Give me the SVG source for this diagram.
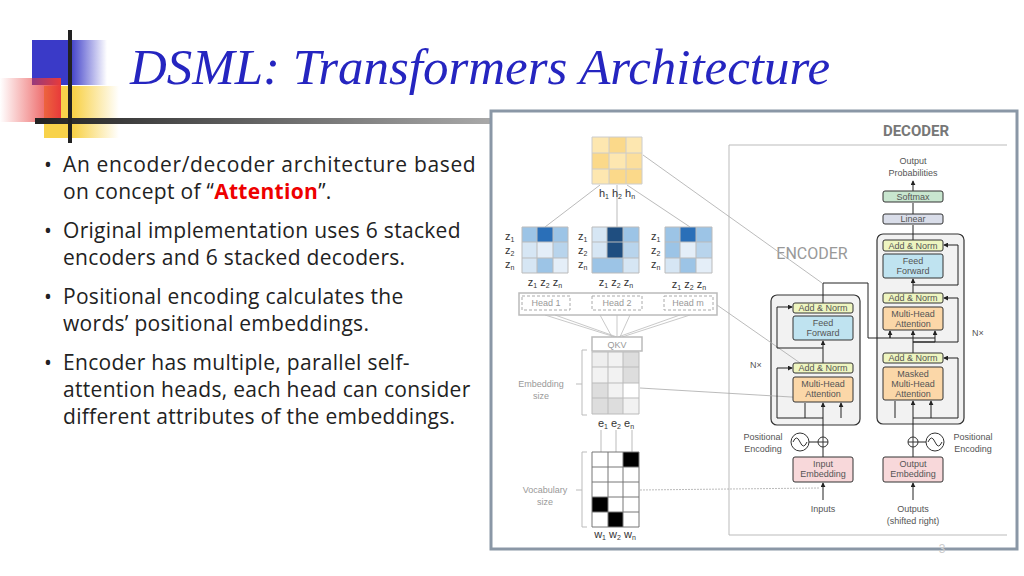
<svg xmlns="http://www.w3.org/2000/svg" width="1024" height="576" viewBox="0 0 1024 576">
<defs>
<linearGradient id="gb" x1="0" x2="1"><stop offset="0.5" stop-color="#3a3ac8"/><stop offset="1" stop-color="#3a3ac8" stop-opacity="0"/></linearGradient>
<linearGradient id="gy" x1="0" x2="1"><stop offset="0.4" stop-color="#f8d24a"/><stop offset="1" stop-color="#f8d24a" stop-opacity="0"/></linearGradient>
<linearGradient id="gr" x1="1" x2="0"><stop offset="0" stop-color="#e83a3a"/><stop offset="1" stop-color="#e83a3a" stop-opacity="0"/></linearGradient>
<linearGradient id="gl" x1="0" x2="1"><stop offset="0" stop-color="#222"/><stop offset="1" stop-color="#aaa"/></linearGradient>
<marker id="ar" viewBox="0 0 6 6" refX="5" refY="3" markerWidth="5" markerHeight="5" orient="auto"><path d="M0 0L6 3L0 6z" fill="#222"/></marker>
</defs>
<style>
.b{font-family:"Open Sans","Liberation Sans",sans-serif;font-size:21px;letter-spacing:0.3px;fill:#222}
.s{font-family:"Liberation Sans",Arial,sans-serif;font-size:9px;fill:#555;text-anchor:middle}
.m{font-family:"Liberation Sans",Arial,sans-serif;font-size:11px;fill:#333;text-anchor:middle}
.g{font-family:"Liberation Sans",Arial,sans-serif;font-size:9px;fill:#999;text-anchor:middle}
.bx{stroke:#333;stroke-width:1}
.ln{stroke:#222;stroke-width:1;fill:none}
.gr{stroke:#bbb;stroke-width:1;fill:none}
</style>
<rect width="1024" height="576" fill="#fff"/>
<g id="logo">
<rect x="32" y="40" width="75" height="45" fill="url(#gb)"/>
<rect x="44" y="86" width="75" height="52" fill="url(#gy)"/>
<rect x="0" y="78" width="61" height="44" fill="url(#gr)"/>
<rect x="35" y="118" width="460" height="6" fill="url(#gl)"/>
<rect x="68" y="30" width="4" height="113" fill="#222"/>
</g>
<text x="130" y="84" font-family="'Liberation Serif',serif" font-style="italic" font-size="50" fill="#2525c0" textLength="700" lengthAdjust="spacingAndGlyphs">DSML: Transformers Architecture</text>
<g id="bullets" class="b">
<text x="44" y="172">•</text><text x="63" y="172" textLength="413">An encoder/decoder architecture based</text>
<text x="63" y="199">on concept of “<tspan fill="#e00" font-weight="bold">Attention</tspan>”.</text>
<text x="44" y="238">•</text><text x="63" y="238">Original implementation uses 6 stacked</text>
<text x="63" y="265">encoders and 6 stacked decoders.</text>
<text x="44" y="304">•</text><text x="63" y="304">Positional encoding calculates the</text>
<text x="63" y="331">words’ positional embeddings.</text>
<text x="44" y="370">•</text><text x="63" y="370">Encoder has multiple, parallel self-</text>
<text x="63" y="397">attention heads, each head can consider</text>
<text x="63" y="424">different attributes of the embeddings.</text>
</g>
<g id="figure">
<rect x="491" y="111" width="526" height="438" fill="#fff" stroke="#8a97a6" stroke-width="3"/>
<path d="M729 535V145H1007M729 535H1007" class="gr"/>
<text x="916" y="136" font-family="Roboto,'Liberation Sans',sans-serif" font-size="15" fill="#777" text-anchor="middle" font-weight="bold">DECODER</text>
<text x="812" y="259" font-family="Roboto,'Liberation Sans',sans-serif" font-size="16" fill="#999" text-anchor="middle">ENCODER</text>
</g>
<g id="stacks">
<rect x="771" y="295" width="89" height="130" rx="6" fill="#f2f2f2" stroke="#333" stroke-width="1.2"/>
<rect x="877" y="234" width="87" height="190" rx="6" fill="#f2f2f2" stroke="#333" stroke-width="1.2"/>
</g>
<g id="connectors">
<path d="M643 155L822 283M717 305L803 365M640 388L808 398" stroke="#aaa" stroke-width="0.8"/>
<path d="M640 490L820 488" stroke="#aaa" stroke-width="0.8" stroke-dasharray="2 1"/>
<path d="M600 185L545 227M617 185V227M627 185L690 227" class="gr"/>
<path d="M545 315L615 337M555 315L617 337M600 315L612 337M617 315V337M630 315L620 337M690 315L622 337M680 315L618 337" stroke="#bbb" stroke-width="0.8"/>
<path d="M601 430V452M616 430V452M632 430V452" class="gr"/>
<path d="M587 350h-5v65h5M582 384h-6M587 452h-5v75h5M582 490h-6" class="gr"/>
<path d="M823 500V483" class="ln" marker-end="url(#ar)"/>
<path d="M823 457V447" class="ln"/>
<path d="M823 437V403" class="ln" marker-end="url(#ar)"/>
<path d="M823 418H777V368H792" class="ln" marker-end="url(#ar)"/>
<path d="M805 418V403M841 418V403" class="ln" marker-end="url(#ar)"/>
<path d="M823 363V341" class="ln" marker-end="url(#ar)"/>
<path d="M823 348H777V307H792" class="ln" marker-end="url(#ar)"/>
<path d="M823 303V283H868V338H935M890 338V331" class="ln"/>
<path d="M890 338V331" class="ln" marker-end="url(#ar)"/>
<path d="M800 442H818" class="ln"/>
<path d="M913 500V483" class="ln" marker-end="url(#ar)"/>
<path d="M913 457V447M913 437V401" class="ln" marker-end="url(#ar)"/>
<path d="M913 418H958V358H944" class="ln" marker-end="url(#ar)"/>
<path d="M895 418V401M931 418V401" class="ln" marker-end="url(#ar)"/>
<path d="M913 353V342H935V331" class="ln" marker-end="url(#ar)"/>
<path d="M913 342V331" class="ln" marker-end="url(#ar)"/>
<path d="M913 342H958V298H944" class="ln" marker-end="url(#ar)"/>
<path d="M913 293V279" class="ln" marker-end="url(#ar)"/>
<path d="M913 285H958V245H944" class="ln" marker-end="url(#ar)"/>
<path d="M913 240V225M913 214V203M913 191V181" class="ln" marker-end="url(#ar)"/>
<path d="M918 442H926" class="ln"/>
</g>
<g id="top-matrix">
<rect x="592" y="137" width="17" height="16" fill="#fde7b0"/><rect x="609" y="137" width="17" height="16" fill="#fbd98a"/><rect x="626" y="137" width="16" height="16" fill="#fde7b0"/>
<rect x="592" y="153" width="17" height="16" fill="#fbd98a"/><rect x="609" y="153" width="17" height="16" fill="#fde7b0"/><rect x="626" y="153" width="16" height="16" fill="#fcdf9c"/>
<rect x="592" y="169" width="17" height="15" fill="#fde7b0"/><rect x="609" y="169" width="17" height="15" fill="#fbd98a"/><rect x="626" y="169" width="16" height="15" fill="#fbd98a"/>
<path d="M592 137h50v47h-50zM609 137v47M626 137v47M592 153h50M592 169h50" fill="none" stroke="#ccc"/>
<text x="617" y="197" class="m">h<tspan font-size="7" dy="2">1</tspan><tspan dy="-2"> h</tspan><tspan font-size="7" dy="2">2</tspan><tspan dy="-2"> h</tspan><tspan font-size="7" dy="2">n</tspan></text>
</g>
<g id="heads">
<g transform="translate(522 227)"><rect width="15" height="15" fill="#9cc4e6"/><rect x="15" width="16" height="15" fill="#2a6fb8"/><rect x="31" width="15" height="15" fill="#9cc4e6"/><rect y="15" width="15" height="16" fill="#d6e6f4"/><rect x="15" y="15" width="16" height="16" fill="#e4eef8"/><rect x="31" y="15" width="15" height="16" fill="#b8d4ec"/><rect y="31" width="15" height="15" fill="#d6e6f4"/><rect x="15" y="31" width="16" height="15" fill="#9cc4e6"/><rect x="31" y="31" width="15" height="15" fill="#e4eef8"/><path d="M0 0h46v46H0zM15 0v46M31 0v46M0 15h46M0 31h46" fill="none" stroke="#bbb"/></g>
<g transform="translate(592 227)"><rect width="15" height="15" fill="#d6e6f4"/><rect x="15" width="16" height="15" fill="#1f4e80"/><rect x="31" width="16" height="15" fill="#9cc4e6"/><rect y="15" width="15" height="16" fill="#d6e6f4"/><rect x="15" y="15" width="16" height="16" fill="#1f4e80"/><rect x="31" y="15" width="16" height="16" fill="#b8d4ec"/><rect y="31" width="31" height="15" fill="#9cc4e6"/><rect x="31" y="31" width="16" height="15" fill="#d6e6f4"/><path d="M0 0h47v46H0zM15 0v31M31 0v46M0 15h47M0 31h47" fill="none" stroke="#bbb"/></g>
<g transform="translate(665 227)"><rect width="15" height="15" fill="#9cc4e6"/><rect x="15" width="16" height="15" fill="#2a6fb8"/><rect x="31" width="16" height="15" fill="#9cc4e6"/><rect y="15" width="15" height="16" fill="#9cc4e6"/><rect x="15" y="15" width="16" height="16" fill="#e4eef8"/><rect x="31" y="15" width="16" height="16" fill="#b8d4ec"/><rect y="31" width="15" height="15" fill="#d6e6f4"/><rect x="15" y="31" width="16" height="15" fill="#9cc4e6"/><rect x="31" y="31" width="16" height="15" fill="#e4eef8"/><path d="M0 0h47v46H0zM15 0v46M31 0v46M0 15h47M0 31h47" fill="none" stroke="#bbb"/></g>
<g class="m" style="text-anchor:start">
<text x="505" y="240">z<tspan font-size="7" dy="2">1</tspan></text><text x="505" y="254">z<tspan font-size="7" dy="2">2</tspan></text><text x="505" y="268">z<tspan font-size="7" dy="2">n</tspan></text>
<text x="578" y="240">z<tspan font-size="7" dy="2">1</tspan></text><text x="578" y="254">z<tspan font-size="7" dy="2">2</tspan></text><text x="578" y="268">z<tspan font-size="7" dy="2">n</tspan></text>
<text x="651" y="240">z<tspan font-size="7" dy="2">1</tspan></text><text x="651" y="254">z<tspan font-size="7" dy="2">2</tspan></text><text x="651" y="268">z<tspan font-size="7" dy="2">n</tspan></text>
</g>
<text x="545" y="286" class="m">z<tspan font-size="7" dy="2">1</tspan><tspan dy="-2"> z</tspan><tspan font-size="7" dy="2">2</tspan><tspan dy="-2"> z</tspan><tspan font-size="7" dy="2">n</tspan></text>
<text x="616" y="286" class="m">z<tspan font-size="7" dy="2">1</tspan><tspan dy="-2"> z</tspan><tspan font-size="7" dy="2">2</tspan><tspan dy="-2"> z</tspan><tspan font-size="7" dy="2">n</tspan></text>
<text x="689" y="288" class="m">z<tspan font-size="7" dy="2">1</tspan><tspan dy="-2"> z</tspan><tspan font-size="7" dy="2">2</tspan><tspan dy="-2"> z</tspan><tspan font-size="7" dy="2">n</tspan></text>
<rect x="519" y="293" width="198" height="22" fill="#fff" stroke="#bbb" stroke-width="1.5"/>
<g fill="none" stroke="#aaa" stroke-dasharray="3 2"><rect x="522" y="296" width="48" height="14"/><rect x="592" y="296" width="50" height="14"/><rect x="664" y="296" width="49" height="14"/></g>
<text x="546" y="306" class="g">Head 1</text><text x="617" y="306" class="g">Head 2</text><text x="688" y="306" class="g">Head m</text>
<rect x="592" y="337" width="50" height="14" fill="#fff" stroke="#bbb" stroke-width="1.5"/><text x="617" y="348" class="g">QKV</text>
</g>
<g id="embedding">
<rect x="592" y="352" width="16" height="15" fill="#eee"/><rect x="608" y="352" width="15" height="15" fill="#f2f2f2"/><rect x="623" y="352" width="16" height="15" fill="#ddd"/>
<rect x="592" y="367" width="16" height="16" fill="#f2f2f2"/><rect x="608" y="367" width="15" height="16" fill="#f2f2f2"/><rect x="623" y="367" width="16" height="16" fill="#ddd"/>
<rect x="592" y="383" width="16" height="15" fill="#ddd"/><rect x="608" y="383" width="15" height="15" fill="#f2f2f2"/><rect x="623" y="383" width="16" height="15" fill="#fff"/>
<rect x="592" y="398" width="16" height="16" fill="#ddd"/><rect x="608" y="398" width="15" height="16" fill="#ddd"/><rect x="623" y="398" width="16" height="16" fill="#f2f2f2"/>
<path d="M592 352h47v62h-47zM608 352v62M623 352v62M592 367h47M592 383h47M592 398h47" fill="none" stroke="#bbb"/>
<text x="541" y="387" class="g">Embedding</text><text x="541" y="399" class="g">size</text>
<text x="616" y="427" class="m">e<tspan font-size="7" dy="2">1</tspan><tspan dy="-2"> e</tspan><tspan font-size="7" dy="2">2</tspan><tspan dy="-2"> e</tspan><tspan font-size="7" dy="2">n</tspan></text>
</g>
<g id="vocab">
<rect x="592" y="452" width="47" height="75" fill="#fff"/>
<rect x="623" y="452" width="16" height="15" fill="#000"/><rect x="592" y="497" width="16" height="15" fill="#000"/><rect x="608" y="512" width="15" height="15" fill="#000"/>
<path d="M592 452h47v75h-47zM608 452v75M623 452v75M592 467h47M592 482h47M592 497h47M592 512h47" fill="none" stroke="#777"/>
<text x="545" y="493" class="g">Vocabulary</text><text x="545" y="505" class="g">size</text>
<text x="615" y="538" class="m">w<tspan font-size="7" dy="2">1</tspan><tspan dy="-2"> w</tspan><tspan font-size="7" dy="2">2</tspan><tspan dy="-2"> w</tspan><tspan font-size="7" dy="2">n</tspan></text>
</g>
<g id="encoder">
<rect x="793" y="303" width="60" height="10" rx="2" fill="#eef5c0" class="bx"/><text x="823" y="311" class="s">Add &amp; Norm</text>
<rect x="793" y="316" width="60" height="24" rx="2" fill="#bfe3f0" class="bx"/><text x="823" y="326" class="s">Feed</text><text x="823" y="336" class="s">Forward</text>
<rect x="793" y="363" width="60" height="10" rx="2" fill="#eef5c0" class="bx"/><text x="823" y="371" class="s">Add &amp; Norm</text>
<rect x="793" y="377" width="60" height="25" rx="2" fill="#fbd7a8" class="bx"/><text x="823" y="387" class="s">Multi-Head</text><text x="823" y="397" class="s">Attention</text>
<rect x="793" y="457" width="60" height="25" rx="2" fill="#f8d8da" class="bx"/><text x="823" y="467" class="s">Input</text><text x="823" y="477" class="s">Embedding</text>
<circle cx="800" cy="442" r="9" fill="#fff" stroke="#333"/><path d="M793 442q3.5-8 7 0t7 0" fill="none" stroke="#333"/>
<circle cx="823" cy="442" r="5" fill="#fff" stroke="#333"/><path d="M818 442h10M823 437v10" stroke="#333"/>
<text x="763" y="440" class="s">Positional</text><text x="763" y="452" class="s">Encoding</text>
<text x="756" y="368" class="s">N×</text>
<text x="823" y="512" class="s">Inputs</text>
</g>
<g id="decoder">
<text x="913" y="164" class="s">Output</text><text x="913" y="176" class="s">Probabilities</text>
<rect x="883" y="191" width="60" height="11" rx="2" fill="#c8e6cf" class="bx"/><text x="913" y="200" class="s">Softmax</text>
<rect x="883" y="214" width="60" height="10" rx="2" fill="#d9dde9" class="bx"/><text x="913" y="222" class="s">Linear</text>
<rect x="883" y="240" width="60" height="11" rx="2" fill="#eef5c0" class="bx"/><text x="913" y="249" class="s">Add &amp; Norm</text>
<rect x="883" y="254" width="60" height="24" rx="2" fill="#bfe3f0" class="bx"/><text x="913" y="264" class="s">Feed</text><text x="913" y="274" class="s">Forward</text>
<rect x="883" y="293" width="60" height="10" rx="2" fill="#eef5c0" class="bx"/><text x="913" y="301" class="s">Add &amp; Norm</text>
<rect x="883" y="307" width="60" height="23" rx="2" fill="#fbd7a8" class="bx"/><text x="913" y="317" class="s">Multi-Head</text><text x="913" y="327" class="s">Attention</text>
<rect x="883" y="353" width="60" height="10" rx="2" fill="#eef5c0" class="bx"/><text x="913" y="361" class="s">Add &amp; Norm</text>
<rect x="883" y="367" width="60" height="33" rx="2" fill="#fbd7a8" class="bx"/><text x="913" y="377" class="s">Masked</text><text x="913" y="387" class="s">Multi-Head</text><text x="913" y="397" class="s">Attention</text>
<rect x="883" y="457" width="60" height="25" rx="2" fill="#f8d8da" class="bx"/><text x="913" y="467" class="s">Output</text><text x="913" y="477" class="s">Embedding</text>
<circle cx="913" cy="442" r="5" fill="#fff" stroke="#333"/><path d="M908 442h10M913 437v10" stroke="#333"/>
<circle cx="935" cy="442" r="9" fill="#fff" stroke="#333"/><path d="M928 442q3.5-8 7 0t7 0" fill="none" stroke="#333"/>
<text x="973" y="440" class="s">Positional</text><text x="973" y="452" class="s">Encoding</text>
<text x="978" y="336" class="s">N×</text>
<text x="913" y="512" class="s">Outputs</text><text x="913" y="524" class="s">(shifted right)</text>
</g>
<text x="942" y="553" font-family="'Liberation Sans',sans-serif" font-size="12" fill="#ccc" text-anchor="middle">3</text>
</svg>
